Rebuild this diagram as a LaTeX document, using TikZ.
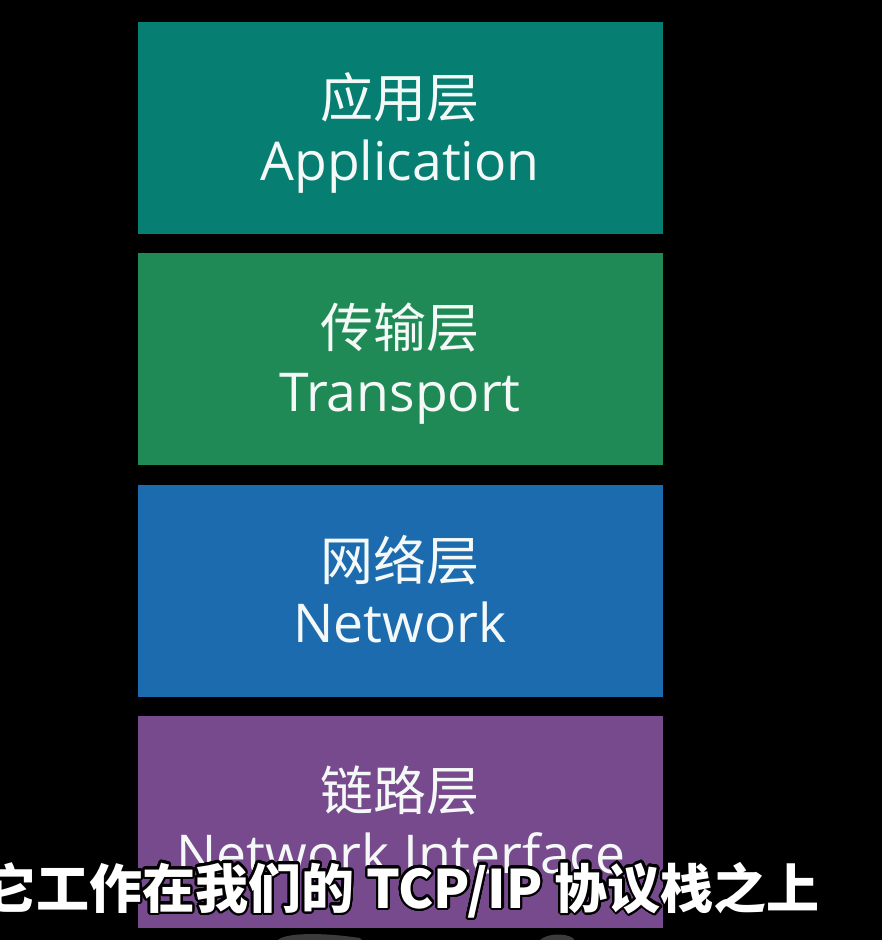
\documentclass[tikz,border=0pt]{standalone}
\usepackage{fontspec}
\setmainfont{Open Sans}
\newfontfamily\cjk{Noto Sans CJK SC}
\usepackage{contour}
\contourlength{2.2pt}
\contournumber{32}
\definecolor{appc}{HTML}{077E72}
\definecolor{trac}{HTML}{1F8A55}
\definecolor{netc}{HTML}{1B6BAE}
\definecolor{linc}{HTML}{774A8D}
\definecolor{blobc}{HTML}{3C3C3C}
\definecolor{txt}{HTML}{F4F8F6}
\tikzset{
  layer/.style={rectangle, inner sep=0pt, minimum width=525pt, minimum height=212pt},
  zh/.style={text=txt, inner sep=0pt, font=\cjk\fontsize{53}{58}\selectfont},
  en/.style={text=txt, inner sep=0pt, anchor=base, font=\fontsize{53.5}{60}\selectfont},
  sub/.style={text=white, inner sep=0pt, anchor=base west, font=\cjk\bfseries\fontsize{53}{60}\selectfont}
}
\begin{document}
\begin{tikzpicture}[x=1pt,y=-1pt]
\useasboundingbox (0,0) rectangle (882,940);
\fill[black] (0,0) rectangle (882,940);
\node[layer, fill=appc] (app) at (400.5,128) {};
\node[layer, fill=trac] (tra) at (400.5,359) {};
\node[layer, fill=netc] (net) at (400.5,591) {};
\node[layer, fill=linc] (lin) at (400.5,822) {};
\node[zh] (appzh) at (400,97) {应用层};
\node[en] (appen) at (400,180) {Application};
\node[zh] (trazh) at (400,328) {传输层};
\node[en] (traen) at (400,411) {Transport};
\node[zh] (netzh) at (400,560) {网络层};
\node[en] (neten) at (400,642) {Network};
\node[zh] (linzh) at (400,791) {链路层};
\node[en] (linen) at (401,873) {Network Interface};
\fill[blobc] (278,940) .. controls (285,933) and (320,932) .. (360,938) -- (362,940) -- cycle;
\fill[blobc] (540,940) .. controls (548,933) and (565,933) .. (573,938) -- (574,940) -- cycle;
\node[sub] (subtitle) at (-17,908) {\contour{black}{它工作在我们的 TCP/IP 协议栈之上}};
\end{tikzpicture}
\end{document}
